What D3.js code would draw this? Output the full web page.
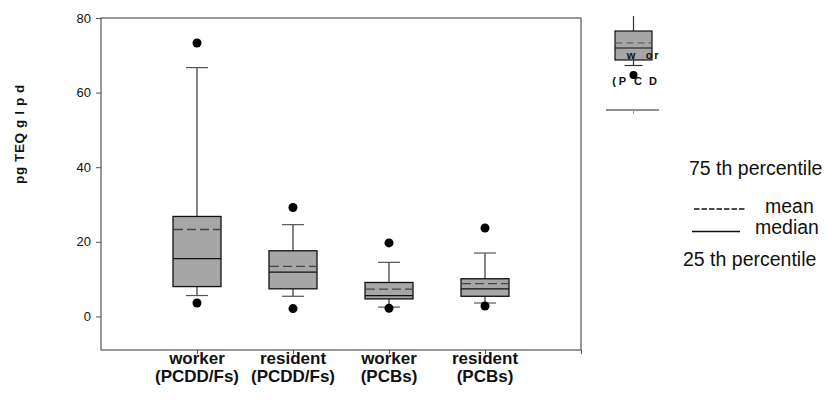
<!DOCTYPE html>
<html>
<head>
<meta charset="utf-8">
<script src="https://cdn.jsdelivr.net/npm/d3@7"></script>
<style>
  body { margin: 0; background: #fff; }
  svg { display: block; font-family: "Liberation Sans", Arial, sans-serif; }
</style>
</head>
<body>
<div id="chart"></div>
<script>
// box plot values (pg TEQ/g lipid)
const groups = ["worker", "resident", "worker", "resident"];
const subLabels = ["(PCDD/Fs)", "(PCDD/Fs)", "(PCBs)", "(PCBs)"];
const q1 = [8.0, 7.4, 4.7, 5.4];
const medians = [15.5, 11.9, 5.6, 7.4];
const means = [23.3, 13.4, 7.3, 8.8];
const q3 = [26.8, 17.6, 9.1, 10.1];
const whiskLow = [5.6, 5.4, 2.5, 3.6];
const whiskHigh = [66.7, 24.6, 14.5, 17.0];
const outLow = [3.6, 2.1, 2.2, 2.8];
const outHigh = [73.3, 29.2, 19.7, 23.7];
const yTicks = [0, 20, 40, 60, 80];

const W = 837, H = 405;
const svg = d3.select("#chart").append("svg")
  .attr("width", W).attr("height", H);

const x = d3.scaleLinear().domain([0, 5]).range([101, 581]);
const y = d3.scaleLinear().domain([-9, 80]).range([350, 18]);

const data = groups.map((g, i) => ({
  i: i + 1, g: g, sub: subLabels[i],
  q1: q1[i], med: medians[i], mean: means[i], q3: q3[i],
  lo: whiskLow[i], hi: whiskHigh[i], oLo: outLow[i], oHi: outHigh[i]
}));

const boxW = 48, capW = 22;

// frame
svg.append("rect")
  .attr("x", x(0)).attr("y", y(80))
  .attr("width", x(5) - x(0)).attr("height", y(-9) - y(80))
  .attr("fill", "none").attr("stroke", "#555").attr("stroke-width", 1.2);

// y axis
const yAxis = svg.append("g")
  .attr("transform", `translate(${x(0)},0)`)
  .call(d3.axisLeft(y).tickValues(yTicks).tickSize(5).tickPadding(5));
yAxis.select(".domain").remove();
yAxis.selectAll("line").attr("stroke", "#555");
yAxis.selectAll("text").style("font-size", "13px").style("font-family", "Liberation Sans, Arial, sans-serif").attr("fill", "#111");

// x axis ticks
const xAxis = svg.append("g")
  .attr("transform", `translate(0,${y(-9)})`)
  .call(d3.axisBottom(x).tickValues([1, 2, 3, 4, 5]).tickSize(4).tickFormat(""));
xAxis.select(".domain").remove();
xAxis.selectAll("line").attr("stroke", "#555");

// x labels
const lab = svg.append("g");
data.forEach(d => {
  const t = lab.append("text")
    .attr("x", x(d.i)).attr("y", y(-9) + 14)
    .attr("text-anchor", "middle")
    .style("font-size", "17px").style("font-weight", "bold").attr("fill", "#111");
  t.append("tspan").attr("x", x(d.i)).attr("dy", 0).text(d.g);
  t.append("tspan").attr("x", x(d.i)).attr("dy", 18).text(d.sub);
});

// y label (glyphs partly lost in the source)
svg.append("text")
  .attr("transform", `translate(24,${(88 + 180) / 2}) rotate(-90)`)
  .attr("text-anchor", "middle")
  .style("font-size", "13.5px").style("font-weight", "bold")
  .style("letter-spacing", "0.6px")
  .attr("fill", "#111")
  .text("pg TEQ  g  l p d");

// boxes
const box = svg.selectAll(".box").data(data).enter().append("g").attr("class", "box");

box.append("line")
  .attr("x1", d => x(d.i)).attr("x2", d => x(d.i))
  .attr("y1", d => y(d.hi)).attr("y2", d => y(d.q3))
  .attr("stroke", "#333").attr("stroke-width", 1.2);
box.append("line")
  .attr("x1", d => x(d.i)).attr("x2", d => x(d.i))
  .attr("y1", d => y(d.q1)).attr("y2", d => y(d.lo))
  .attr("stroke", "#333").attr("stroke-width", 1.2);
box.append("line")
  .attr("x1", d => x(d.i) - capW / 2).attr("x2", d => x(d.i) + capW / 2)
  .attr("y1", d => y(d.hi)).attr("y2", d => y(d.hi))
  .attr("stroke", "#555").attr("stroke-width", 1.2);
box.append("line")
  .attr("x1", d => x(d.i) - capW / 2).attr("x2", d => x(d.i) + capW / 2)
  .attr("y1", d => y(d.lo)).attr("y2", d => y(d.lo))
  .attr("stroke", "#555").attr("stroke-width", 1.2);

box.append("rect")
  .attr("x", d => x(d.i) - boxW / 2).attr("width", boxW)
  .attr("y", d => y(d.q3)).attr("height", d => y(d.q1) - y(d.q3))
  .attr("fill", "#a6a6a6").attr("stroke", "#111").attr("stroke-width", 1.3);

box.append("line")
  .attr("x1", d => x(d.i) - boxW / 2).attr("x2", d => x(d.i) + boxW / 2)
  .attr("y1", d => y(d.med)).attr("y2", d => y(d.med))
  .attr("stroke", "#111").attr("stroke-width", 1.3);
box.append("line")
  .attr("x1", d => x(d.i) - boxW / 2 + 1).attr("x2", d => x(d.i) + boxW / 2)
  .attr("y1", d => y(d.mean)).attr("y2", d => y(d.mean))
  .attr("stroke", "#444").attr("stroke-width", 1.3)
  .attr("stroke-dasharray", "9,4");

box.append("circle").attr("cx", d => x(d.i)).attr("cy", d => y(d.oHi)).attr("r", 4.5).attr("fill", "#000");
box.append("circle").attr("cx", d => x(d.i)).attr("cy", d => y(d.oLo)).attr("r", 4.5).attr("fill", "#000");

// legend sample box
const lx = 633.5;
const leg = svg.append("g");
leg.append("line").attr("x1", lx).attr("x2", lx).attr("y1", 16).attr("y2", 31).attr("stroke", "#333").attr("stroke-width", 1.2);
leg.append("rect").attr("x", lx - 18.5).attr("y", 31).attr("width", 37).attr("height", 29)
  .attr("fill", "#a6a6a6").attr("stroke", "#111").attr("stroke-width", 1.2);
leg.append("line").attr("x1", lx - 18).attr("x2", lx + 18).attr("y1", 43).attr("y2", 43)
  .attr("stroke", "#555").attr("stroke-width", 1.2).attr("stroke-dasharray", "7,4");
leg.append("line").attr("x1", lx - 18.5).attr("x2", lx + 18.5).attr("y1", 48).attr("y2", 48)
  .attr("stroke", "#111").attr("stroke-width", 1.2);
leg.append("line").attr("x1", lx).attr("x2", lx).attr("y1", 60).attr("y2", 65).attr("stroke", "#333").attr("stroke-width", 1.2);
leg.append("line").attr("x1", lx - 9).attr("x2", lx + 9).attr("y1", 65.5).attr("y2", 65.5).attr("stroke", "#333").attr("stroke-width", 1.2);
leg.append("circle").attr("cx", lx).attr("cy", 75).attr("r", 4).attr("fill", "#000");
leg.append("line").attr("x1", 606).attr("x2", 659).attr("y1", 110).attr("y2", 110).attr("stroke", "#222").attr("stroke-width", 1.2);
leg.append("line").attr("x1", lx).attr("x2", lx).attr("y1", 110).attr("y2", 114).attr("stroke", "#999").attr("stroke-width", 1);

const frag1 = [["w", 631], ["o", 649], ["r", 656.5]];
const frag2 = [["(", 614], ["P", 622.5], ["C", 638], ["D", 653]];
frag1.forEach(f => leg.append("text").attr("x", f[1]).attr("y", 59).attr("text-anchor", "middle")
  .style("font-size", "11px").style("font-weight", "bold").attr("fill", "#111").text(f[0]));
frag2.forEach(f => leg.append("text").attr("x", f[1]).attr("y", 85).attr("text-anchor", "middle")
  .style("font-size", "11px").style("font-weight", "bold").attr("fill", "#111").text(f[0]));

// legend text
const lt = svg.append("g").style("font-size", "19.5px").attr("fill", "#111");
lt.append("text").attr("x", 689).attr("y", 175).text("75 th percentile");
lt.append("text").attr("x", 765).attr("y", 213).text("mean");
lt.append("text").attr("x", 755).attr("y", 234).text("median");
lt.append("text").attr("x", 683).attr("y", 266).text("25 th percentile");
lt.append("line").attr("x1", 694).attr("x2", 746).attr("y1", 209).attr("y2", 209)
  .attr("stroke", "#111").attr("stroke-width", 1.3).attr("stroke-dasharray", "5.5,2");
lt.append("line").attr("x1", 692).attr("x2", 740).attr("y1", 231.5).attr("y2", 231.5)
  .attr("stroke", "#111").attr("stroke-width", 1.5);
</script>
</body>
</html>
